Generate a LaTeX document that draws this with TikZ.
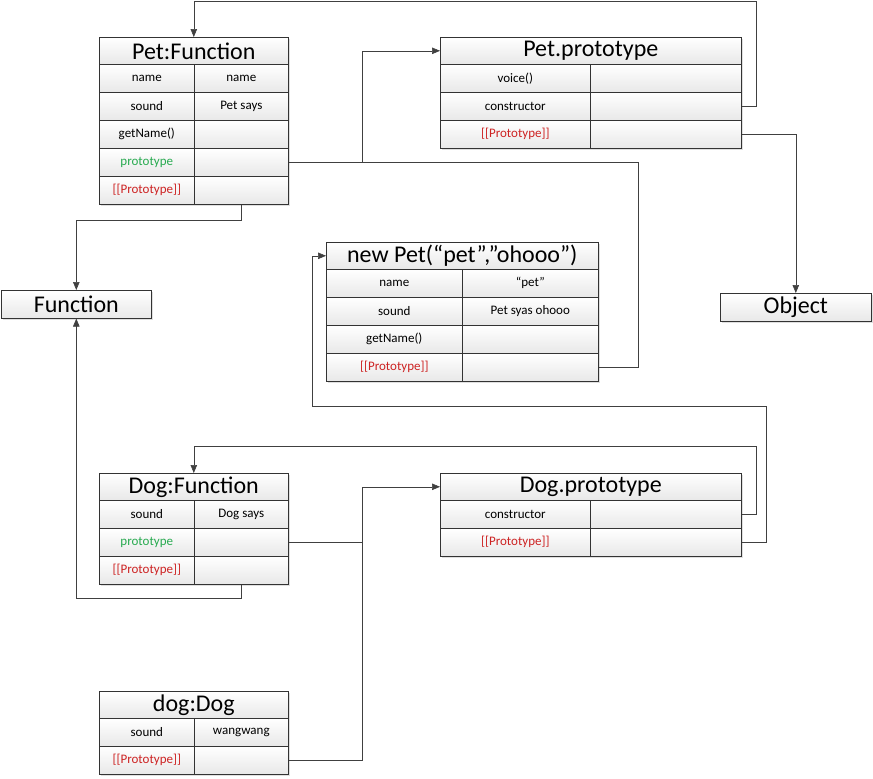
\documentclass[tikz,border=0pt]{standalone}
\usepackage{fontspec}
\setmainfont{Carlito}
\usetikzlibrary{arrows.meta,shadows}

\definecolor{protogreen}{RGB}{40,170,80}
\definecolor{protored}{RGB}{205,35,35}

\tikzset{
  tbl/.style={draw=black!80, line width=0.6pt, anchor=north west, inner sep=0pt,
    top color=white, bottom color=black!9,
    drop shadow={shadow xshift=1.5pt, shadow yshift=-1.5pt, opacity=0.25}},
  head/.style={tbl, minimum height=27pt, font=\fontsize{24}{24}\selectfont},
  cell/.style={tbl, minimum height=28pt, font=\fontsize{13}{14}\selectfont},
  green/.style={text=protogreen},
  red/.style={text=protored},
  wire/.style={draw=black!75, line width=0.6pt},
  link/.style={wire, -{Triangle[length=8pt,width=6.5pt]}},
}

\begin{document}
\begin{tikzpicture}[x=1pt,y=-1pt]

\useasboundingbox (0,0) rectangle (873,779);

% Pet:Function
\node[head, minimum width=189pt] (pf) at (99,37) {Pet:Function};
\node[cell, minimum width=95pt] (pf-name) at (99,64) {name};
\node[cell, minimum width=94pt] (pf-namev) at (194,64) {name};
\node[cell, minimum width=95pt] (pf-sound) at (99,92) {sound};
\node[cell, minimum width=94pt] (pf-soundv) at (194,92) {Pet says};
\node[cell, minimum width=95pt] (pf-get) at (99,120) {getName()};
\node[cell, minimum width=94pt] (pf-getv) at (194,120) {};
\node[cell, green, minimum width=95pt] (pf-proto) at (99,148) {prototype};
\node[cell, minimum width=94pt] (pf-protov) at (194,148) {};
\node[cell, red, minimum width=95pt] (pf-pp) at (99,176) {[[Prototype]]};
\node[cell, minimum width=94pt] (pf-ppv) at (194,176) {};

% Pet.prototype
\node[head, minimum width=301pt] (pp) at (440,37) {Pet.prototype};
\node[cell, minimum width=150pt] (pp-voice) at (440,64) {voice()};
\node[cell, minimum width=151pt] (pp-voicev) at (590,64) {};
\node[cell, minimum width=150pt] (pp-cons) at (440,92) {constructor};
\node[cell, minimum width=151pt] (pp-consv) at (590,92) {};
\node[cell, red, minimum width=150pt] (pp-pp) at (440,120) {[[Prototype]]};
\node[cell, minimum width=151pt] (pp-ppv) at (590,120) {};

% new Pet("pet","ohooo")
\node[head, minimum width=272pt] (np) at (326,242) {new Pet(“pet”,”ohooo”)};
\node[cell, minimum width=136pt] (np-name) at (326,269) {name};
\node[cell, minimum width=136pt] (np-namev) at (462,269) {“pet”};
\node[cell, minimum width=136pt] (np-sound) at (326,297) {sound};
\node[cell, minimum width=136pt] (np-soundv) at (462,297) {Pet syas ohooo};
\node[cell, minimum width=136pt] (np-get) at (326,325) {getName()};
\node[cell, minimum width=136pt] (np-getv) at (462,325) {};
\node[cell, red, minimum width=136pt] (np-pp) at (326,353) {[[Prototype]]};
\node[cell, minimum width=136pt] (np-ppv) at (462,353) {};

% Function and Object
\node[head, minimum width=150pt, minimum height=28pt] (fn) at (1,290) {Function};
\node[head, minimum width=151pt, minimum height=28pt] (obj) at (720,293) {Object};

% Dog:Function
\node[head, minimum width=189pt] (df) at (99,473) {Dog:Function};
\node[cell, minimum width=95pt] (df-sound) at (99,500) {sound};
\node[cell, minimum width=94pt] (df-soundv) at (194,500) {Dog says};
\node[cell, green, minimum width=95pt] (df-proto) at (99,528) {prototype};
\node[cell, minimum width=94pt] (df-protov) at (194,528) {};
\node[cell, red, minimum width=95pt] (df-pp) at (99,556) {[[Prototype]]};
\node[cell, minimum width=94pt] (df-ppv) at (194,556) {};

% Dog.prototype
\node[head, minimum width=301pt] (dp) at (440,473) {Dog.prototype};
\node[cell, minimum width=150pt] (dp-cons) at (440,500) {constructor};
\node[cell, minimum width=151pt] (dp-consv) at (590,500) {};
\node[cell, red, minimum width=150pt] (dp-pp) at (440,528) {[[Prototype]]};
\node[cell, minimum width=151pt] (dp-ppv) at (590,528) {};

% dog:Dog
\node[head, minimum width=189pt] (dd) at (99,691) {dog:Dog};
\node[cell, minimum width=95pt] (dd-sound) at (99,718) {sound};
\node[cell, minimum width=94pt] (dd-soundv) at (194,718) {wangwang};
\node[cell, red, minimum width=95pt] (dd-pp) at (99,746) {[[Prototype]]};
\node[cell, minimum width=94pt] (dd-ppv) at (194,746) {};

% routing points
\coordinate (bus) at (362,0);
\coordinate (ptop) at (756,1);
\coordinate (dtop) at ([yshift=27pt]df.north);
\coordinate (npbend) at (312,406);

% connectors
\draw[link] (pp-consv.east) -| (ptop) -| (pf.north);
\draw[link] (pf-protov.east) -- (pf-protov.east -| bus) |- (pp.west);
\draw[wire] (np-ppv.east) -- ++(40,0) |- (pf-protov.east -| bus);
\draw[link] (pf-ppv.south) -- ++(0,16) -| (fn.north);
\draw[link] (pp-ppv.east) -| (obj.north);
\draw[link] (df-ppv.south) -- ++(0,14) -| (fn.south);
\draw[link] (dp-consv.east) -- ++(15,0) |- (dtop) -- (df.north);
\draw[link] (dp-ppv.east) -- ++(25,0) |- (npbend) |- (np.west);
\draw[link] (df-protov.east) -- (df-protov.east -| bus) |- (dp.west);
\draw[wire] (dd-ppv.east) -- (dd-ppv.east -| bus) -- (df-protov.east -| bus);

\end{tikzpicture}
\end{document}
